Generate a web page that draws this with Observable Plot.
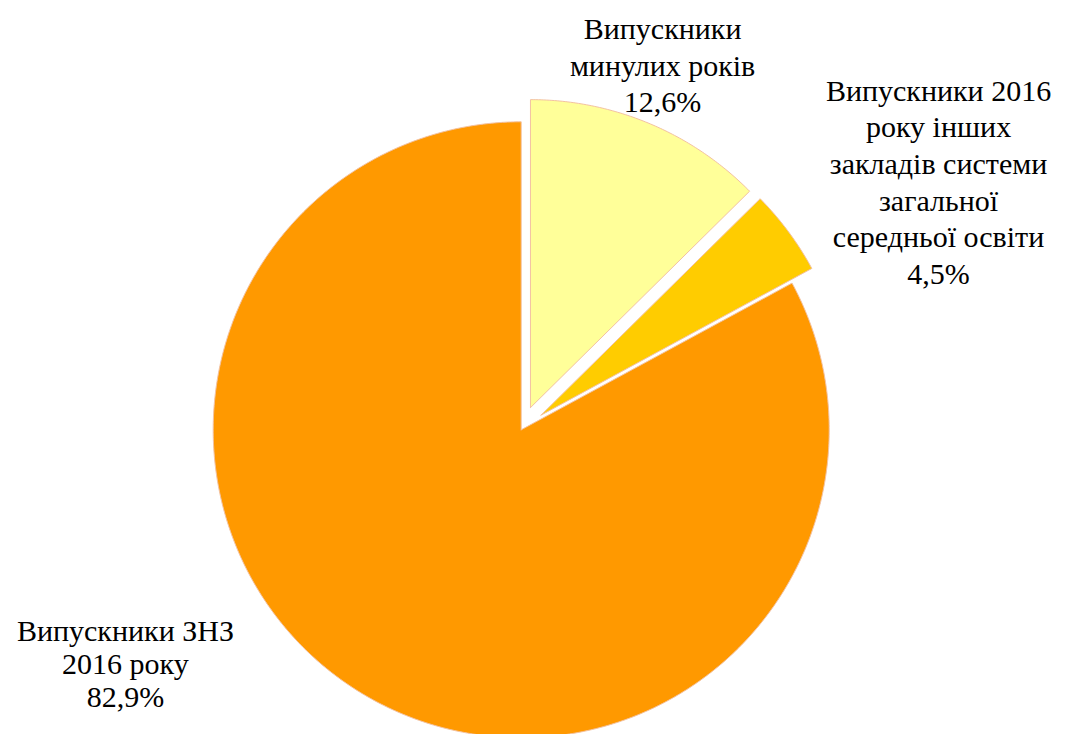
<!DOCTYPE html>
<html>
<head>
<meta charset="utf-8">
<script src="https://cdn.jsdelivr.net/npm/d3@7"></script>
<script src="https://cdn.jsdelivr.net/npm/@observablehq/plot@0.6"></script>
<style>
  html, body { margin: 0; padding: 0; background: #fff; }
</style>
</head>
<body>
<div id="chart"></div>
<script>
// ---- data ----
const categories = [
  "Випускники минулих років",
  "Випускники 2016 року інших закладів системи загальної середньої освіти",
  "Випускники ЗНЗ 2016 року"
];
const labelLines = [
  ["Випускники", "минулих років"],
  ["Випускники 2016", "року інших", "закладів системи", "загальної", "середньої освіти"],
  ["Випускники ЗНЗ", "2016 року"]
];
const values = [12.6, 4.5, 82.9];
const colors = ["#FFFF99", "#FFCC00", "#FF9900"];

// ---- layout (pie units: 1 = radius) ----
const explode = [0.078, 0.08, 0];
const labelAt = [[0.459, 1.188], [1.355, 0.809], [-1.285, -0.759]];
const labelLineHeight = [1.22, 1.22, 1.085];

const total = d3.sum(values);
const ends = d3.cumsum(values).map(v => v / total * 2 * Math.PI);
const starts = [0, ...ends.slice(0, -1)];

const pts = [];
categories.forEach((c, i) => {
  const a0 = starts[i], a1 = ends[i], mid = (a0 + a1) / 2;
  const ox = explode[i] * Math.sin(mid), oy = explode[i] * Math.cos(mid);
  pts.push({name: c, x: ox, y: oy});
  const n = Math.max(8, Math.ceil((a1 - a0) / (Math.PI / 360)));
  for (let k = 0; k <= n; k++) {
    const a = a0 + (a1 - a0) * k / n;
    pts.push({name: c, x: ox + Math.sin(a), y: oy + Math.cos(a)});
  }
  pts.push({name: c, x: ox, y: oy});
});

const fmt = v => v.toFixed(1).replace(".", ",") + "%";
const labels = categories.map((c, i) => ({
  name: c,
  text: [...labelLines[i], fmt(values[i])].join("\n"),
  x: labelAt[i][0], y: labelAt[i][1], lh: labelLineHeight[i]
}));

const W = 1065, H = 734, R = 308, cx = 520.7, cy = 429.3;
const serifFont = "Liberation Serif";

const chart = Plot.plot({
  width: W,
  height: H,
  margin: 0,
  x: {domain: [-cx / R, (W - cx) / R], axis: null},
  y: {domain: [-(H - cy) / R, cy / R], axis: null},
  color: {type: "ordinal", domain: categories, range: colors},
  marks: [
    Plot.line(pts, {x: "x", y: "y", z: "name", fill: "name", stroke: "#f3c2a2", strokeWidth: 1, curve: "linear"}),
    Plot.text(labels.filter(d => d.lh > 1.1), {x: "x", y: "y", text: "text", fontFamily: serifFont, fontSize: 30, lineHeight: 1.22, fill: "#000", textAnchor: "middle", lineAnchor: "middle"}),
    Plot.text(labels.filter(d => d.lh <= 1.1), {x: "x", y: "y", text: "text", fontFamily: serifFont, fontSize: 30, lineHeight: 1.085, fill: "#000", textAnchor: "middle", lineAnchor: "middle"})
  ]
});
d3.select(chart).selectAll("text, tspan").style("font-family", "'Liberation Serif'");
document.getElementById("chart").appendChild(chart);
</script>
</body>
</html>
